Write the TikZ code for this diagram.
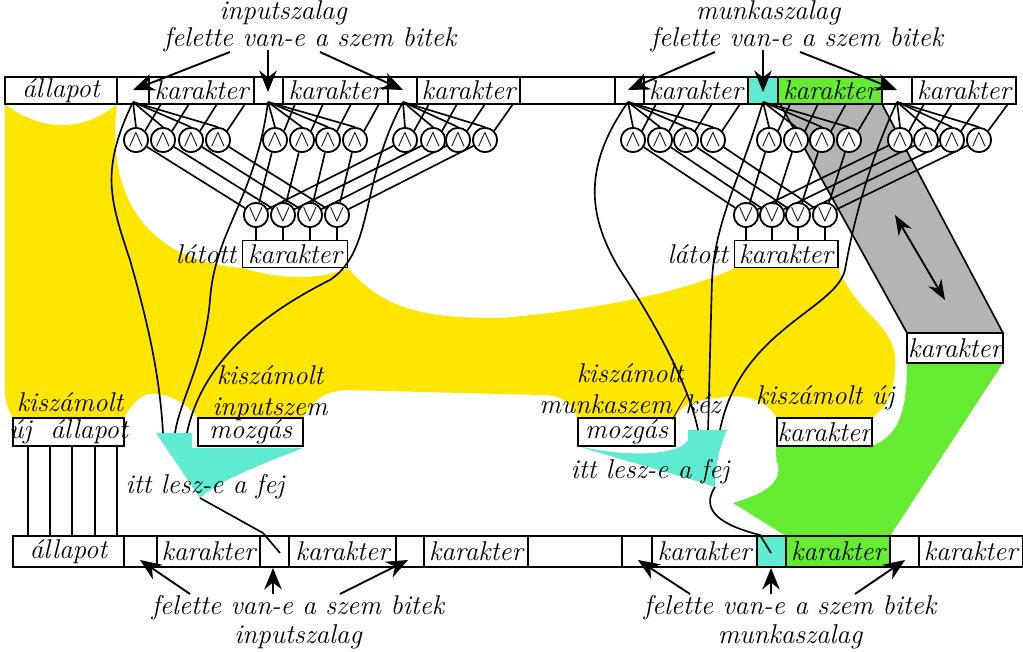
\documentclass[tikz,border=0pt]{standalone}
\usepackage{tikz}
\usetikzlibrary{arrows.meta,positioning}
\definecolor{sarga}{RGB}{255,230,0}
\definecolor{turkiz}{RGB}{95,235,210}
\definecolor{zold}{RGB}{100,235,50}
\definecolor{szurke}{RGB}{180,180,180}
\tikzset{
  lbl/.style={font=\fontsize{11.5}{13}\selectfont\itshape, inner sep=1pt},
  es/.style={draw, circle, fill=white, inner sep=0pt, minimum size=3.6mm, font=\normalsize},
  wire/.style={line width=0.7pt},
  big/.style={-{Stealth[length=3.2mm,width=2.6mm]}, thick},
}
% one bank of AND gates: head x, cell left x, list of AND x
\newcommand{\bank}[4]{%
  \foreach \gx [count=\k from 0] in {#3} {
    \node[es] (#4\k) at (\gx,140) {$\wedge$};
    \draw[wire] (#1,102) -- (#4\k.north);
    \draw[wire] (#4\k.north east) -- ({#2+12+28*\k},104);
  }}
\begin{document}
\begin{tikzpicture}[x=0.149mm,y=-0.149mm,line width=0.7pt]
  \useasboundingbox (0,0) rectangle (1023,652);

  % --- coloured regions
  \fill[sarga] (5,104) .. controls (40,132) and (85,132) .. (117,104)
    .. controls (105,200) and (150,262) .. (243,268)
    .. controls (280,280) and (320,280) .. (348,268)
    .. controls (385,312) and (430,318) .. (500,318)
    .. controls (600,310) and (690,290) .. (735,268)
    -- (838,268)
    .. controls (860,320) and (900,325) .. (895,370)
    .. controls (893,400) and (882,410) .. (872,418)
    -- (777,418) .. controls (765,398) and (740,393) .. (718,398)
    .. controls (695,400) and (680,405) .. (675,418)
    -- (578,418) .. controls (570,400) and (560,395) .. (540,395)
    -- (345,390) .. controls (320,392) and (310,405) .. (303,418)
    -- (198,418) .. controls (185,400) and (160,390) .. (145,395)
    .. controls (135,400) and (128,410) .. (124,418)
    -- (13,418) .. controls (8,410) and (5,400) .. (5,390) -- cycle;
  \fill[szurke, draw=black] (780,104) -- (882,104) -- (1003,333) -- (907,333) -- cycle;
  \fill[zold] (907,363) -- (1003,363) -- (890,536) -- (786,536) -- (733,503)
    .. controls (760,495) and (782,485) .. (778,465)
    .. controls (775,455) and (776,448) .. (777,446)
    -- (872,446) .. controls (900,435) and (907,410) .. (907,363);
  \fill[turkiz] (156,433) -- (192,433) -- (192,448) -- (303,448)
    .. controls (260,465) and (220,480) .. (200,498) -- cycle;
  \fill[turkiz] (578,446) .. controls (630,458) and (680,455) .. (688,440)
    -- (688,430) -- (727,430) .. controls (718,450) and (715,470) .. (715,487)
    .. controls (680,475) and (620,460) .. (578,446);
  \fill[turkiz] (748,77) rectangle (778,104);
  \fill[zold] (778,77) rectangle (882,104);
  \fill[turkiz] (757,536) rectangle (786,567);
  \fill[zold] (786,536) rectangle (890,567);

  % --- tapes
  \foreach \a/\b/\t in {5/117/{\'allapot}, 117/149/{}, 149/254/karakter, 254/283/{},
      283/388/karakter, 388/417/{}, 417/520/karakter, 520/615/{}, 615/644/{},
      644/748/karakter, 748/778/{}, 778/882/karakter, 882/912/{}, 912/1016/karakter}
    \draw (\a,77) rectangle (\b,104) node[midway, lbl] {\t};
  \foreach \a/\b/\t in {13/124/{\'allapot}, 124/157/{}, 157/260/karakter, 260/289/{},
      289/396/karakter, 396/424/{}, 424/528/karakter, 528/622/{}, 622/652/{},
      652/757/karakter, 757/786/{}, 786/890/karakter, 890/919/{}, 919/1022.5/karakter}
    \draw (\a,536) rectangle (\b,567) node[midway, lbl] {\t};

  % --- AND banks
  \bank{133}{149}{136,163,191,218}{la}
  \bank{268}{283}{275,302,328,355}{lb}
  \bank{403}{417}{405,433,458,485}{lc}
  \bank{628}{644}{633,660,686,713}{ra}
  \bank{763}{778}{769,796,822,849}{rb}
  \bank{897}{912}{900,926,952,979}{rc}

  % --- OR gates and seen character
  \node[draw, fill=white, lbl, minimum width=15.6mm, minimum height=4mm] (lseen) at (295,254) {karakter};
  \node[lbl, left=1pt of lseen] {l\'atott};
  \node[draw, fill=white, lbl, minimum width=15.4mm, minimum height=4mm] (rseen) at (786,254) {karakter};
  \node[lbl, left=1pt of rseen] {l\'atott};
  \foreach \ox [count=\k from 0] in {256,283,310,337} {
    \node[es] (lor\k) at (\ox,215) {$\vee$};
    \draw[wire] (la\k) -- (lor\k); \draw[wire] (lb\k) -- (lor\k); \draw[wire] (lc\k) -- (lor\k);
    \draw[wire] (lor\k.south) -- (\ox,240);
    \node[es] at (\ox,215) {$\vee$};
  }
  \foreach \ox [count=\k from 0] in {746,772,798,825} {
    \node[es] (ror\k) at (\ox,215) {$\vee$};
    \draw[wire] (ra\k) -- (ror\k); \draw[wire] (rb\k) -- (ror\k); \draw[wire] (rc\k) -- (ror\k);
    \draw[wire] (ror\k.south) -- (\ox,240);
    \node[es] at (\ox,215) {$\vee$};
  }
  \foreach \n in {la,lb,lc,ra,rb,rc} \foreach \k in {0,...,3} \node[es] at (\n\k) {$\wedge$};

  % --- head wires
  \draw[wire] (133,102) .. controls (100,170) and (110,200) .. (130,260) .. controls (150,330) and (160,380) .. (163,433);
  \draw[wire] (268,102) .. controls (255,200) and (215,230) .. (210,300) .. controls (205,360) and (180,400) .. (175,433);
  \draw[wire] (403,102) .. controls (360,180) and (375,250) .. (330,280) .. controls (250,320) and (200,370) .. (187,433);
  \draw[wire] (200,498) -- (263,533) -- (280,553);
  \draw[wire] (628,102) .. controls (580,170) and (590,220) .. (620,270) .. controls (660,330) and (690,390) .. (698,430);
  \draw[wire] (763,102) .. controls (740,180) and (715,220) .. (712,280) .. controls (710,350) and (709,400) .. (708,430);
  \draw[wire] (897,102) .. controls (865,170) and (850,240) .. (845,270) .. controls (835,310) and (740,330) .. (720,430);
  \draw[wire] (715,487) .. controls (700,510) and (720,525) .. (760,535) -- (771,553);
  \foreach \vx in {28,50,72,95,117} \draw[wire] (\vx,446) -- (\vx,536);

  % --- boxes of the lower row
  \draw[fill=white] (13,418) rectangle (124,446) node[midway, lbl] {\'uj \ \'allapot};
  \draw[fill=white] (198,418) rectangle (303,446) node[midway, lbl] {mozg\'as};
  \draw[fill=white] (578,418) rectangle (675,446) node[midway, lbl] {mozg\'as};
  \draw[fill=white] (777,418) rectangle (872,446) node[midway, lbl] {karakter};
  \draw[fill=white] (907,333) rectangle (1003,363) node[midway, lbl] {karakter};
  \draw[thick, {Stealth[length=3mm]}-{Stealth[length=3mm]}] (895,215) -- (945,300);

  % --- labels
  \node[lbl] at (70,402) {kisz\'amolt};
  \node[lbl, align=center] at (270,393) {kisz\'amolt\\inputszem};
  \node[lbl] at (205,487) {itt lesz-e a fej};
  \node[lbl, align=center] at (630,392) {kisz\'amolt\\munkaszem/k\'ez};
  \node[lbl] at (650,472) {itt lesz-e a fej};
  \node[lbl] at (825,398) {kisz\'amolt \'uj};

  % --- tape titles and arrows
  \node[lbl] (tin) at (283,13) {inputszalag};
  \node[lbl] (tinb) at (310,40) {felette van-e a szem bitek};
  \node[lbl] (tmu) at (768,13) {munkaszalag};
  \node[lbl] (tmub) at (797,40) {felette van-e a szem bitek};
  \draw[big] (230,52) -- (133,90);
  \draw[big] (268,50) -- (268,92);
  \draw[big] (320,52) -- (403,90);
  \draw[big] (715,52) -- (628,90);
  \draw[big] (763,50) -- (763,92);
  \draw[big] (800,52) -- (897,90);
  \node[lbl] (bin) at (298,608) {felette van-e a szem bitek};
  \node[lbl] at (298,637) {inputszalag};
  \node[lbl] (bmu) at (790,608) {felette van-e a szem bitek};
  \node[lbl] at (790,637) {munkaszalag};
  \draw[big] (190,594) -- (140,560);
  \draw[big] (273,594) -- (273,568);
  \draw[big] (340,594) -- (408,560);
  \draw[big] (690,594) -- (638,560);
  \draw[big] (771,594) -- (771,568);
  \draw[big] (855,594) -- (905,560);
\end{tikzpicture}
\end{document}
